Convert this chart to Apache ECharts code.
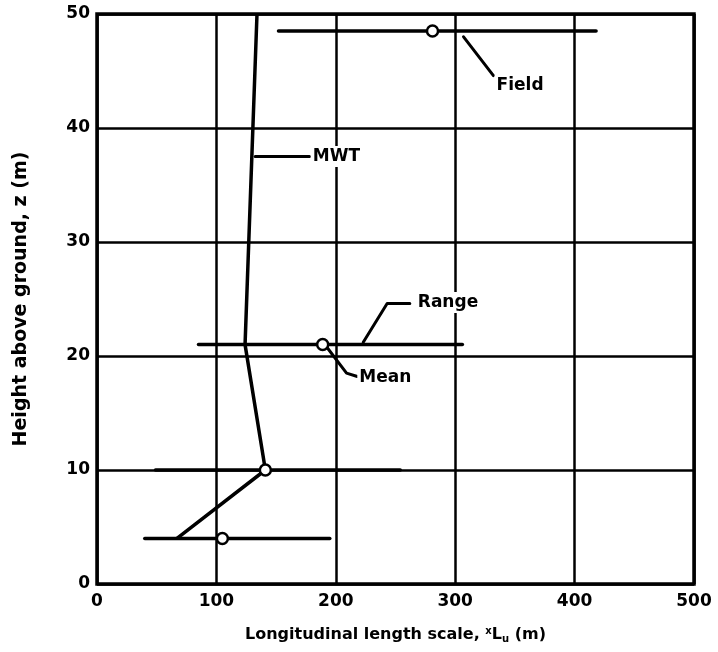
<!DOCTYPE html>
<html>
<head>
<meta charset="utf-8">
<script src="https://cdn.jsdelivr.net/npm/echarts@6/dist/echarts.min.js"></script>
<style>
  html, body { margin: 0; padding: 0; background: #fff; }
  #chart { width: 718px; height: 652px; }
</style>
</head>
<body>
<div id="chart"></div>
<script>
// Measurement heights (m) and field statistics of the longitudinal length scale
const heights   = [4, 10, 21, 48.5];
const rangeLow  = [40, 49, 85, 152];
const rangeHigh = [195, 254, 306, 418];
const fieldMean = [105, 141, 189, 281];

// Wind-tunnel (MWT) profile
const mwtX = [67, 141, 124, 134];
const mwtZ = [4, 10, 21, 50];

// Axis ticks
const xTicks = [0, 100, 200, 300, 400, 500];
const yTicks = [0, 10, 20, 30, 40, 50];

// Callout leaders (data coordinates) and their text anchors
const fieldLeader = [[307, 48.0], [332, 44.6]];
const rangeLeader = [[223, 21.2], [243, 24.6], [262, 24.6]];
const meanLeader  = [[193, 20.7], [209, 18.5], [218, 18.2]];
const mwtLeader   = [[132.5, 37.5], [178, 37.5]];
const calloutText = ['Field', 'Range', 'Mean', 'MWT'];
const calloutPos  = [[333, 43.7], [267, 24.7], [218, 18.1], [179, 37.5]];

const INK = '#000';
const chart = echarts.init(document.getElementById('chart'), null, { renderer: 'canvas' });

const rangeSeries = heights.map((z, i) => ({
  type: 'line',
  data: [[rangeLow[i], z], [rangeHigh[i], z]],
  symbol: 'none',
  lineStyle: { color: INK, width: 3.5, cap: 'round' },
  z: 3,
  silent: true
}));

const leaderSeries = [fieldLeader, rangeLeader, meanLeader, mwtLeader].map(pts => ({
  type: 'line',
  data: pts,
  symbol: 'none',
  lineStyle: { color: INK, width: 3, cap: 'round', join: 'round' },
  z: 4,
  silent: true
}));

chart.setOption({
  animation: false,
  backgroundColor: '#fff',
  grid: {
    left: 97, right: 24, top: 14, bottom: 68,
    show: true, borderColor: INK, borderWidth: 3.5, backgroundColor: 'transparent'
  },
  xAxis: {
    type: 'value', min: 0, max: 500, interval: 100,
    name: 'Longitudinal length scale, {sup|x}L{sub|u} (m)',
    nameLocation: 'middle', nameGap: 42,
    nameTextStyle: {
      fontFamily: 'DejaVu Sans', fontWeight: 'bold', fontSize: 16, color: INK,
      rich: {
        sup: { fontFamily: 'DejaVu Sans', fontWeight: 'bold', fontSize: 10, verticalAlign: 'top', padding: [0, 0, 8, 0], color: INK },
        sub: { fontFamily: 'DejaVu Sans', fontWeight: 'bold', fontSize: 10, verticalAlign: 'bottom', padding: [8, 0, 0, 0], color: INK }
      }
    },
    axisLine: { show: false },
    axisTick: { show: false },
    axisLabel: {
      margin: 9, color: INK, fontFamily: 'DejaVu Sans', fontWeight: 'bold', fontSize: 17,
      formatter: v => xTicks.includes(v) ? String(v) : ''
    },
    splitLine: { show: true, lineStyle: { color: INK, width: 2.5 } }
  },
  yAxis: {
    type: 'value', min: 0, max: 50, interval: 10,
    name: 'Height above ground, z (m)',
    nameLocation: 'middle', nameGap: 66, nameRotate: 90,
    nameTextStyle: { fontFamily: 'DejaVu Sans', fontWeight: 'bold', fontSize: 19, color: INK },
    axisLine: { show: false },
    axisTick: { show: false },
    axisLabel: {
      margin: 7, color: INK, fontFamily: 'DejaVu Sans', fontWeight: 'bold', fontSize: 17,
      formatter: v => yTicks.includes(v) ? String(v) : ''
    },
    splitLine: { show: true, lineStyle: { color: INK, width: 2.5 } }
  },
  series: [
    ...rangeSeries,
    {
      type: 'line',
      data: mwtX.map((x, i) => [x, mwtZ[i]]),
      symbol: 'none',
      lineStyle: { color: INK, width: 3.5, join: 'round' },
      z: 3,
      silent: true
    },
    ...leaderSeries,
    {
      type: 'scatter',
      data: fieldMean.map((x, i) => [x, heights[i]]),
      symbol: 'circle',
      symbolSize: 11,
      itemStyle: { color: '#fff', borderColor: INK, borderWidth: 2.5, opacity: 1 },
      z: 5,
      silent: true
    },
    {
      type: 'scatter',
      data: calloutPos.map((p, i) => ({ value: p, name: calloutText[i] })),
      symbolSize: 0,
      itemStyle: { opacity: 1 },
      z: 6,
      silent: true,
      label: {
        show: true, position: 'right', distance: 0,
        formatter: p => p.name,
        fontFamily: 'DejaVu Sans', fontWeight: 'bold', fontSize: 17, color: INK, opacity: 1,
        backgroundColor: '#fff', padding: [2, 2, 2, 2]
      }
    }
  ]
});
</script>
</body>
</html>
